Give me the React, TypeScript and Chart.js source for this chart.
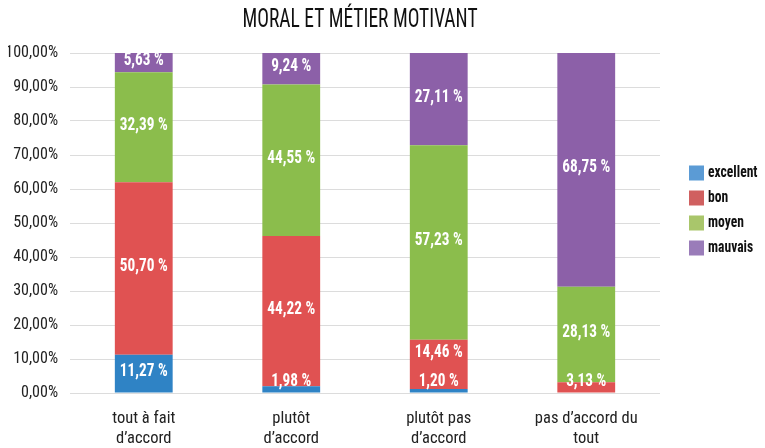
import React, { useEffect, useRef } from "react";
import { Chart, registerables } from "chart.js";
Chart.register(...registerables);

const TITLE = "MORAL ET MÉTIER MOTIVANT";
const categories = [
  ["tout à fait", "d’accord"],
  ["plutôt", "d’accord"],
  ["plutôt pas", "d’accord"],
  ["pas d’accord du", "tout"],
];
const seriesNames = ["excellent", "bon", "moyen", "mauvais"];
const excellent = [11.27, 1.98, 1.2, 0];
const bon = [50.7, 44.22, 14.46, 3.13];
const moyen = [32.39, 44.55, 57.23, 28.13];
const mauvais = [5.63, 9.24, 27.11, 68.75];
const yTickLabels = ["0,00%", "10,00%", "20,00%", "30,00%", "40,00%", "50,00%", "60,00%", "70,00%", "80,00%", "90,00%", "100,00%"];

const FONT = "'Roboto Condensed', 'Open Sans', sans-serif";
const barColors = ["#2f83c5", "#e05252", "#8bbd4c", "#8c60a8"];
const legendColors = ["#5b9bd5", "#d06060", "#a9c66b", "#9a7cb9"];

const fmt = (v: number) => v.toFixed(2).replace(".", ",") + " %";

function squeezedText(ctx: any, text: string, x: number, y: number, sx: number) {
  ctx.save();
  ctx.translate(x, y);
  ctx.scale(sx, 1);
  ctx.fillText(text, 0, 0);
  ctx.restore();
}

const labelPlugin = {
  id: "segLabels",
  afterDatasetsDraw(chart: any) {
    const ctx = chart.ctx;
    const bottom = chart.chartArea.bottom;
    ctx.save();
    // title
    ctx.font = `normal 25px ${FONT}`;
    ctx.fillStyle = "#111";
    ctx.textAlign = "center";
    ctx.textBaseline = "middle";
    squeezedText(ctx, TITLE, 360, 21, 0.78);

    ctx.font = `bold 18px ${FONT}`;
    ctx.fillStyle = "#ffffff";
    const n = chart.data.labels.length;
    for (let i = 0; i < n; i++) {
      let prevY: number | null = null;
      chart.data.datasets.forEach((ds: any, di: number) => {
        const v = ds.data[i];
        if (!v) return;
        const el = chart.getDatasetMeta(di).data[i];
        let y = (el.y + el.base) / 2 - 2;
        if (y > bottom - 12) y = bottom - 12;
        if (prevY !== null && prevY - y < 22) y = prevY - 29;
        squeezedText(ctx, fmt(v), el.x, y, 0.85);
        prevY = y;
      });
    }
    // legend
    const ys = [173, 198, 223, 248];
    ctx.font = `bold 17px ${FONT}`;
    ctx.textAlign = "left";
    seriesNames.forEach((name, k) => {
      ctx.fillStyle = legendColors[k];
      ctx.fillRect(689, ys[k] - 7.5, 15, 15);
      ctx.fillStyle = "#111";
      squeezedText(ctx, name, 708, ys[k], 0.8);
    });
    ctx.restore();
  },
};

export default function App() {
  const ref = useRef<HTMLCanvasElement>(null);
  useEffect(() => {
    const data = [excellent, bon, moyen, mauvais];
    const chart = new Chart(ref.current!, {
      type: "bar",
      data: {
        labels: categories as any,
        datasets: seriesNames.map((name, k) => ({
          label: name,
          data: data[k],
          backgroundColor: barColors[k],
          borderWidth: 0,
          barPercentage: 0.8,
          categoryPercentage: 0.49,
        })),
      },
      options: {
        responsive: false,
        animation: false,
        layout: { padding: { left: 8, right: 105, top: 53, bottom: 0 } },
        plugins: {
          legend: { display: false },
          tooltip: { enabled: false },
          title: { display: false },
        },
        scales: {
          x: {
            stacked: true,
            grid: { display: false },
            border: { display: false },
            ticks: { color: "#222", font: { family: FONT, size: 16.5, lineHeight: 1.2 }, padding: 8, maxRotation: 0 },
            afterFit: (s: any) => { s.height = 55; },
          },
          y: {
            stacked: true,
            min: 0,
            max: 100,
            ticks: {
              stepSize: 10,
              color: "#222",
              font: { family: FONT, size: 16 },
              padding: 12,
              callback: (v: any) => yTickLabels[Math.round(Number(v) / 10)],
            },
            grid: { color: "#dcdcdc", drawTicks: false, lineWidth: 1 },
            border: { display: false },
            afterFit: (s: any) => { s.width = 62; },
          },
        },
      },
      plugins: [labelPlugin],
    });
    return () => chart.destroy();
  }, []);
  return (
    <div style={{ position: "absolute", left: 0, top: 0, width: 765, height: 448, background: "#fff" }}>
      <canvas ref={ref} width={765} height={448} style={{ display: "block" }} />
    </div>
  );
}
